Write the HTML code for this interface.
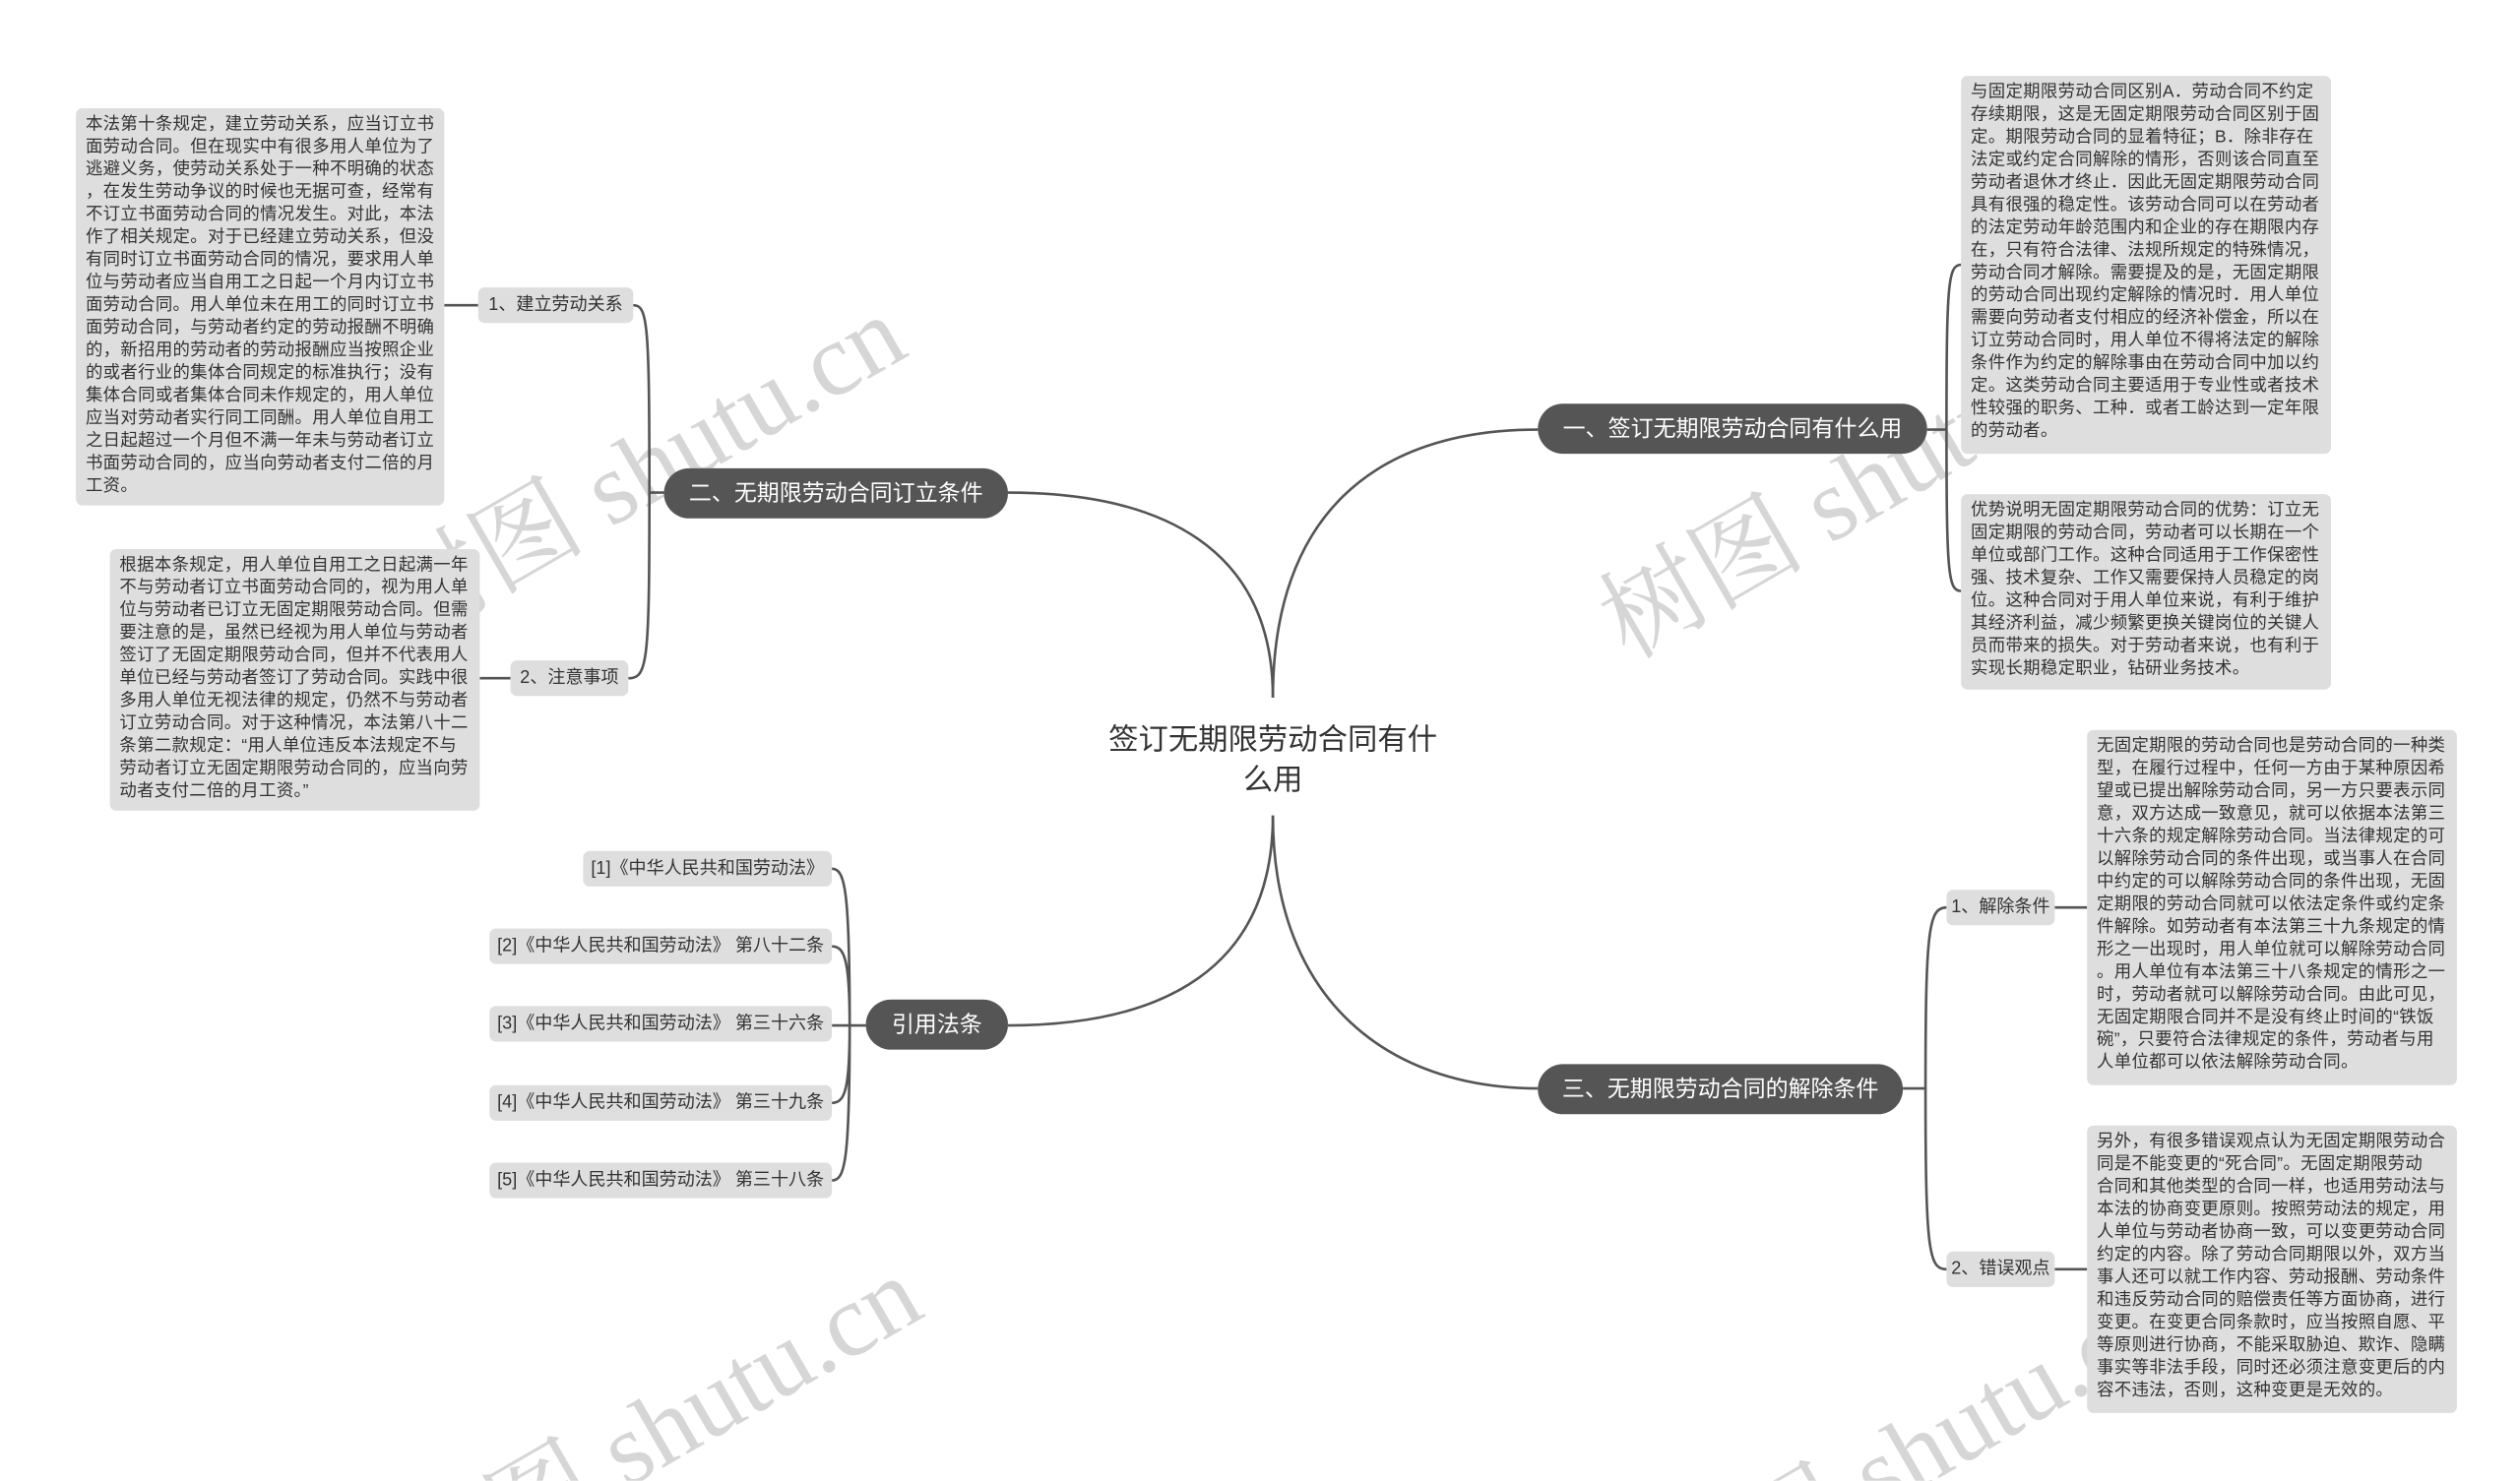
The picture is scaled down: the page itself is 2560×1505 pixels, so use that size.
<!DOCTYPE html>
<html><head><meta charset="utf-8">
<style>
html,body{margin:0;padding:0;background:#fff;width:2560px;height:1505px;overflow:hidden;}
body{position:relative;}
#w{position:absolute;left:0;top:0;width:1560px;height:917px;overflow:hidden;transform:scale(1.641);transform-origin:0 0;font-family:"Liberation Sans","Noto Sans CJK SC",sans-serif;}
.box{position:absolute;background:#dedede;border-radius:4px;color:#333;font-size:10.6px;line-height:14px;padding:3px 0 0 6px;white-space:nowrap;letter-spacing:0.2px;box-sizing:border-box;}
.sm{position:absolute;background:#dedede;border-radius:4px;color:#333;font-size:11px;height:22px;line-height:22px;text-align:center;white-space:nowrap;}
.pill{position:absolute;background:#555;border-radius:16px;color:#fff;font-size:14px;height:31px;line-height:31px;text-align:center;white-space:nowrap;}
svg{position:absolute;left:0;top:0;overflow:hidden;}
.wm{fill:rgba(180,180,180,0.55);stroke:none;font-family:"Liberation Serif","Noto Serif CJK SC",serif;font-size:64px;}
</style></head><body><div id="w">

<svg width="1560" height="917" viewBox="0 0 1560 917" fill="none" stroke="#555" stroke-width="1.6">
<text class="wm" x="253" y="399" transform="rotate(-30 253 399)">树图 shutu.cn</text>
<text class="wm" x="1008" y="409" transform="rotate(-30 1008 409)">树图 shutu.cn</text>
<text class="wm" x="263" y="994" transform="rotate(-30 263 994)">树图 shutu.cn</text>
<text class="wm" x="1038" y="1009" transform="rotate(-30 1038 1009)">树图 shutu.cn</text>
<path d="M788,432 C788,340 720,305 624,305"/>
<path d="M788,432 C788,320 850,266 952,266"/>
<path d="M788,505 C788,600 720,635 624,635"/>
<path d="M788,505 C788,620 860,674 952,674"/>
<path d="M411,305 L402,305 M402,305 C402,200 401,189 392,189 M402,305 C402,410 401,420 389,420"/>
<path d="M275,189 L296,189 M297,420 L316,420"/>
<path d="M1193,266 L1205,266 M1205,266 C1205,175 1206,164 1214,164 M1205,266 C1205,355 1206,366 1214,366"/>
<path d="M1178,674 L1192,674 M1192,674 C1192,575 1194,562 1205,562 M1192,674 C1192,775 1194,786 1205,786"/>
<path d="M1272,562 L1292,562 M1272,786 L1292,786"/>
<path d="M536,635 L526,635 M526,635 C526,550 523,538 515,538 M526,635 C526,595 523,586 515,586 M526,635 L515,635 M526,635 C526,675 523,683 515,683 M526,635 C526,720 523,731 515,731"/>
</svg>

<div style="position:absolute;left:668px;top:445px;width:240px;text-align:center;font-size:18.5px;line-height:25px;color:#333;">签订无期限劳动合同有什<br>么用</div>

<div class="pill" style="left:411px;top:290px;width:213px;">二、无期限劳动合同订立条件</div>
<div class="pill" style="left:952px;top:250px;width:241px;">一、签订无期限劳动合同有什么用</div>
<div class="pill" style="left:536px;top:619px;width:88px;">引用法条</div>
<div class="pill" style="left:952px;top:659px;width:226px;">三、无期限劳动合同的解除条件</div>

<div class="sm" style="left:296px;top:178px;width:96px;">1、建立劳动关系</div>
<div class="sm" style="left:316px;top:409px;width:73px;">2、注意事项</div>
<div class="sm" style="left:1205px;top:551px;width:67px;">1、解除条件</div>
<div class="sm" style="left:1205px;top:775px;width:67px;">2、错误观点</div>

<div class="sm" style="left:361px;top:527px;width:154px;">[1]《中华人民共和国劳动法》</div>
<div class="sm" style="left:303px;top:575px;width:212px;">[2]《中华人民共和国劳动法》 第八十二条</div>
<div class="sm" style="left:303px;top:623px;width:212px;">[3]《中华人民共和国劳动法》 第三十六条</div>
<div class="sm" style="left:303px;top:672px;width:212px;">[4]《中华人民共和国劳动法》 第三十九条</div>
<div class="sm" style="left:303px;top:720px;width:212px;">[5]《中华人民共和国劳动法》 第三十八条</div>

<div class="box" style="left:47px;top:67px;width:228px;height:246px;">本法第十条规定，建立劳动关系，应当订立书<br>面劳动合同。但在现实中有很多用人单位为了<br>逃避义务，使劳动关系处于一种不明确的状态<br>，在发生劳动争议的时候也无据可查，经常有<br>不订立书面劳动合同的情况发生。对此，本法<br>作了相关规定。对于已经建立劳动关系，但没<br>有同时订立书面劳动合同的情况，要求用人单<br>位与劳动者应当自用工之日起一个月内订立书<br>面劳动合同。用人单位未在用工的同时订立书<br>面劳动合同，与劳动者约定的劳动报酬不明确<br>的，新招用的劳动者的劳动报酬应当按照企业<br>的或者行业的集体合同规定的标准执行；没有<br>集体合同或者集体合同未作规定的，用人单位<br>应当对劳动者实行同工同酬。用人单位自用工<br>之日起超过一个月但不满一年未与劳动者订立<br>书面劳动合同的，应当向劳动者支付二倍的月<br>工资。</div>

<div class="box" style="left:68px;top:340px;width:229px;height:162px;">根据本条规定，用人单位自用工之日起满一年<br>不与劳动者订立书面劳动合同的，视为用人单<br>位与劳动者已订立无固定期限劳动合同。但需<br>要注意的是，虽然已经视为用人单位与劳动者<br>签订了无固定期限劳动合同，但并不代表用人<br>单位已经与劳动者签订了劳动合同。实践中很<br>多用人单位无视法律的规定，仍然不与劳动者<br>订立劳动合同。对于这种情况，本法第八十二<br>条第二款规定：“用人单位违反本法规定不与<br>劳动者订立无固定期限劳动合同的，应当向劳<br>动者支付二倍的月工资。”</div>

<div class="box" style="left:1214px;top:47px;width:229px;height:234px;">与固定期限劳动合同区别A．劳动合同不约定<br>存续期限，这是无固定期限劳动合同区别于固<br>定。期限劳动合同的显着特征；B．除非存在<br>法定或约定合同解除的情形，否则该合同直至<br>劳动者退休才终止．因此无固定期限劳动合同<br>具有很强的稳定性。该劳动合同可以在劳动者<br>的法定劳动年龄范围内和企业的存在期限内存<br>在，只有符合法律、法规所规定的特殊情况，<br>劳动合同才解除。需要提及的是，无固定期限<br>的劳动合同出现约定解除的情况时．用人单位<br>需要向劳动者支付相应的经济补偿金，所以在<br>订立劳动合同时，用人单位不得将法定的解除<br>条件作为约定的解除事由在劳动合同中加以约<br>定。这类劳动合同主要适用于专业性或者技术<br>性较强的职务、工种．或者工龄达到一定年限<br>的劳动者。</div>

<div class="box" style="left:1214px;top:306px;width:229px;height:121px;">优势说明无固定期限劳动合同的优势：订立无<br>固定期限的劳动合同，劳动者可以长期在一个<br>单位或部门工作。这种合同适用于工作保密性<br>强、技术复杂、工作又需要保持人员稳定的岗<br>位。这种合同对于用人单位来说，有利于维护<br>其经济利益，减少频繁更换关键岗位的关键人<br>员而带来的损失。对于劳动者来说，也有利于<br>实现长期稳定职业，钻研业务技术。</div>

<div class="box" style="left:1292px;top:452px;width:229px;height:220px;">无固定期限的劳动合同也是劳动合同的一种类<br>型，在履行过程中，任何一方由于某种原因希<br>望或已提出解除劳动合同，另一方只要表示同<br>意，双方达成一致意见，就可以依据本法第三<br>十六条的规定解除劳动合同。当法律规定的可<br>以解除劳动合同的条件出现，或当事人在合同<br>中约定的可以解除劳动合同的条件出现，无固<br>定期限的劳动合同就可以依法定条件或约定条<br>件解除。如劳动者有本法第三十九条规定的情<br>形之一出现时，用人单位就可以解除劳动合同<br>。用人单位有本法第三十八条规定的情形之一<br>时，劳动者就可以解除劳动合同。由此可见，<br>无固定期限合同并不是没有终止时间的“铁饭<br>碗”，只要符合法律规定的条件，劳动者与用<br>人单位都可以依法解除劳动合同。</div>

<div class="box" style="left:1292px;top:697px;width:229px;height:178px;">另外，有很多错误观点认为无固定期限劳动合<br>同是不能变更的“死合同”。无固定期限劳动<br>合同和其他类型的合同一样，也适用劳动法与<br>本法的协商变更原则。按照劳动法的规定，用<br>人单位与劳动者协商一致，可以变更劳动合同<br>约定的内容。除了劳动合同期限以外，双方当<br>事人还可以就工作内容、劳动报酬、劳动条件<br>和违反劳动合同的赔偿责任等方面协商，进行<br>变更。在变更合同条款时，应当按照自愿、平<br>等原则进行协商，不能采取胁迫、欺诈、隐瞒<br>事实等非法手段，同时还必须注意变更后的内<br>容不违法，否则，这种变更是无效的。</div>
</div></body></html>
